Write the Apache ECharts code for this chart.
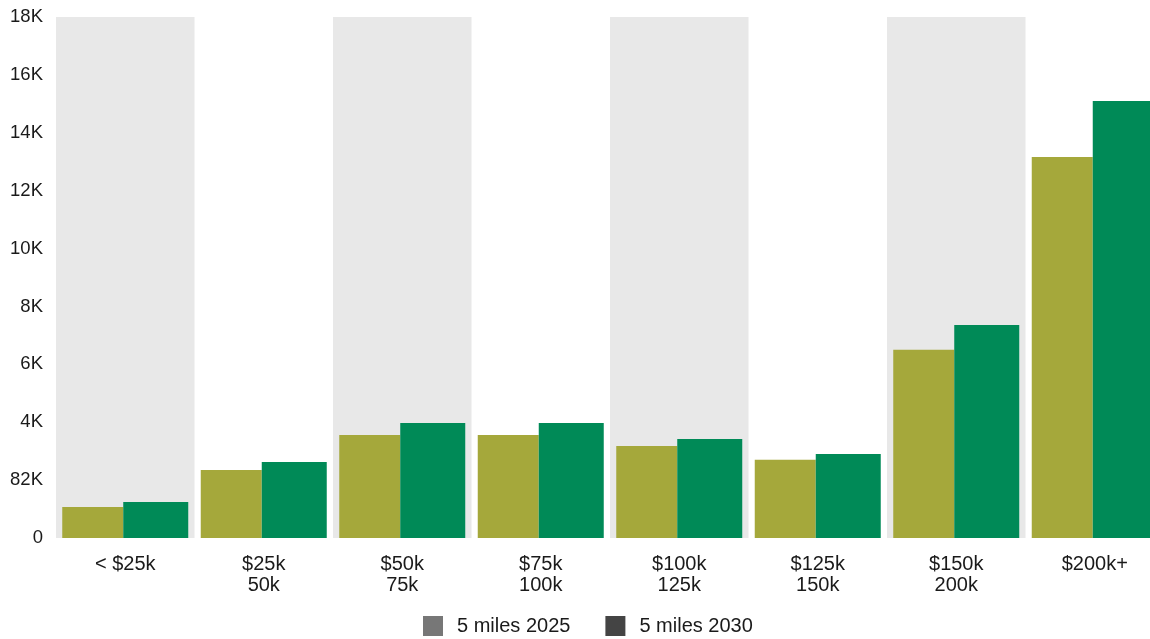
<!DOCTYPE html>
<html>
<head>
<meta charset="utf-8">
<script src="https://cdn.jsdelivr.net/npm/echarts@6/dist/echarts.min.js"></script>
<style>
html,body{margin:0;padding:0;background:#fff;overflow:hidden;}
#chart{width:1150px;height:639px;}
</style>
</head>
<body>
<div id="chart"></div>
<script>
const categories = ['< $25k', '$25k\n50k', '$50k\n75k', '$75k\n100k', '$100k\n125k', '$125k\n150k', '$150k\n200k', '$200k+'];
const seriesNames = ['5 miles 2025', '5 miles 2030'];
const values2025 = [1070, 2350, 3560, 3560, 3180, 2700, 6500, 13160];
const values2030 = [1240, 2630, 3970, 3970, 3420, 2900, 7360, 15100];
const yTickValues = [0, 2000, 4000, 6000, 8000, 10000, 12000, 14000, 16000, 18000];
const yTickLabels = ['0', '82K', '4K', '6K', '8K', '10K', '12K', '14K', '16K', '18K'];

const chart = echarts.init(document.getElementById('chart'), null, {renderer: 'canvas'});
const font = '"Liberation Sans", Arial, Helvetica, sans-serif';
chart.setOption({
  animation: false,
  backgroundColor: '#ffffff',
  textStyle: {fontFamily: font},
  grid: {left: 56, width: 1108, top: 17, bottom: 101, containLabel: false, outerBoundsMode: 'none'},
  legend: {
    left: 423,
    bottom: 3,
    padding: 0,
    itemWidth: 20,
    itemHeight: 20,
    itemGap: 35,
    icon: 'rect',
    textStyle: {fontFamily: font, fontSize: 20, color: '#1a1a1a', padding: [0, 0, 0, 9]},
    data: [
      {name: seriesNames[0], itemStyle: {color: '#777777'}},
      {name: seriesNames[1], itemStyle: {color: '#444444'}}
    ]
  },
  xAxis: {
    type: 'category',
    data: categories,
    axisLine: {show: false},
    axisTick: {show: false},
    splitArea: {show: true, areaStyle: {color: ['#e8e8e8', 'rgba(255,255,255,0)']}},
    axisLabel: {fontFamily: font, fontSize: 20, color: '#1a1a1a', margin: 16, lineHeight: 21}
  },
  yAxis: {
    type: 'value',
    min: 0,
    max: 18000,
    interval: 2000,
    axisLine: {show: false},
    axisTick: {show: false},
    splitLine: {show: false},
    axisLabel: {
      fontFamily: font, fontSize: 18.5, color: '#1a1a1a', margin: 13,
      formatter: function (v) {
        const i = yTickValues.indexOf(v);
        return i >= 0 ? yTickLabels[i] : '';
      }
    }
  },
  series: [
    {name: seriesNames[0], type: 'bar', data: values2025, barWidth: 61, barGap: '0%',
     itemStyle: {color: '#A5A83B'}},
    {name: seriesNames[1], type: 'bar', data: values2030, barWidth: 65, barGap: '0%',
     itemStyle: {color: '#008A57'}}
  ]
});
</script>
</body>
</html>
